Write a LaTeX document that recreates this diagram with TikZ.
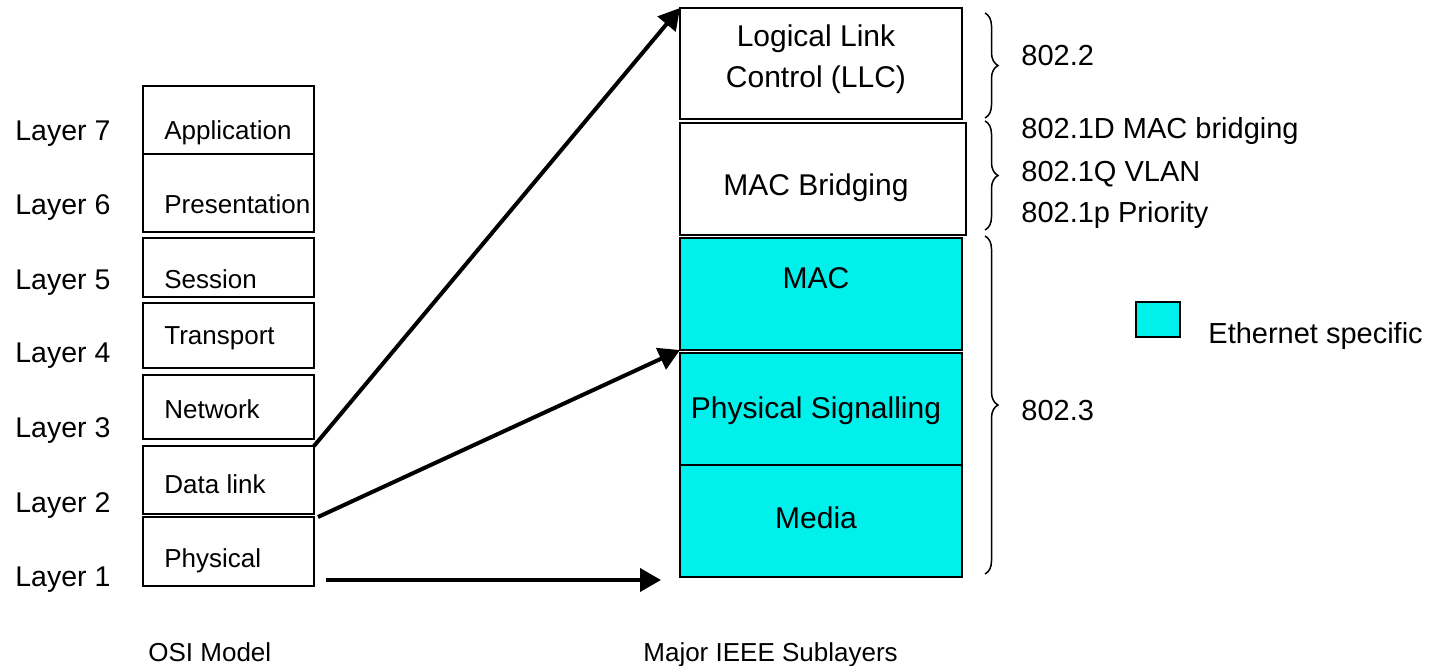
\documentclass[tikz,border=0pt]{standalone}
\usepackage{fontspec}
\setmainfont{Liberation Sans}
\usetikzlibrary{arrows.meta,fit,decorations.pathreplacing}
\definecolor{ethcyan}{RGB}{0,240,236}
\begin{document}
\begin{tikzpicture}[x=0.5pt,y=-0.5pt,
  box/.style={draw,line width=1pt,inner sep=0pt,outer sep=0pt},
  ethbox/.style={box,fill=ethcyan},
  laylabel/.style={font=\fontsize{14.25}{17}\selectfont,anchor=base west,inner sep=0pt},
  ositext/.style={font=\fontsize{13}{16}\selectfont,anchor=base west,inner sep=0pt},
  ieeetext/.style={font=\fontsize{15}{18}\selectfont,anchor=base,inner sep=0pt},
  stdtext/.style={font=\fontsize{14.5}{17}\selectfont,anchor=base west,inner sep=0pt},
  captext/.style={font=\fontsize{13}{16}\selectfont,anchor=base west,inner sep=0pt},
  bigarrow/.style={line width=2pt,-{Triangle[length=10.5pt,width=11.5pt]}},
  curly/.style={line width=0.75pt,decorate,decoration={brace,amplitude=6.5pt}}]
\useasboundingbox (0,0) rectangle (1431,665);

% OSI reference model stack
\node[box,fit={(143,86) (314,154)}]  (app) {};
\node[box,fit={(143,154) (314,232)}] (pres) {};
\node[box,fit={(143,238) (314,297)}] (sess) {};
\node[box,fit={(143,303) (314,368)}] (trans) {};
\node[box,fit={(143,375) (314,439)}] (net) {};
\node[box,fit={(143,446) (314,514)}] (dl) {};
\node[box,fit={(143,517) (314,586)}] (ph) {};

\node[ositext] (tapp)   at (164,139) {Application};
\node[ositext] (tpres)  at (164,213) {Presentation};
\node[ositext] (tsess)  at (164,288) {Session};
\node[ositext] (ttrans) at (164,344) {Transport};
\node[ositext] (tnet)   at (164,418) {Network};
\node[ositext] (tdl)    at (164,493) {Data link};
\node[ositext] (tph)    at (164,567) {Physical};

\node[laylabel] (l7) at (15,140) {Layer 7};
\node[laylabel] (l6) at (15,214) {Layer 6};
\node[laylabel] (l5) at (15,289) {Layer 5};
\node[laylabel] (l4) at (15,362) {Layer 4};
\node[laylabel] (l3) at (15,437) {Layer 3};
\node[laylabel] (l2) at (15,512) {Layer 2};
\node[laylabel] (l1) at (15,586) {Layer 1};

% IEEE sublayer stack
\node[box,fit={(680,8) (962,119)}]      (llc) {};
\node[box,fit={(680,123) (966,235)}]    (bridge) {};
\node[ethbox,fit={(680,238) (962,350)}] (mac) {};
\node[ethbox,fit={(680,353) (962,465)}] (phys) {};
\node[ethbox,fit={(680,465) (962,577)}] (media) {};

\node[ieeetext] (tllc1)   at (816,46)  {Logical Link};
\node[ieeetext] (tllc2)   at (816,87)  {Control (LLC)};
\node[ieeetext] (tbridge) at (816,195) {MAC Bridging};
\node[ieeetext] (tmac)    at (816,288) {MAC};
\node[ieeetext] (tphys)   at (816,418) {Physical Signalling};
\node[ieeetext] (tmedia)  at (816,528) {Media};

% braces and standard numbers
\draw[curly] (985,13) -- (985,118);
\draw[curly] (985,121) -- (985,230);
\draw[curly] (985,236) -- (985,574);

\node[stdtext] (s22)  at (1021,65)  {802.2};
\node[stdtext] (s1d)  at (1021,138) {802.1D MAC bridging};
\node[stdtext] (s1q)  at (1021,181) {802.1Q VLAN};
\node[stdtext] (s1p)  at (1021,222) {802.1p Priority};
\node[stdtext] (s3)   at (1021,420) {802.3};

% legend
\node[ethbox,fit={(1136,302) (1180,337)}] (legend) {};
\node[stdtext] (tlegend) at (1208,343) {Ethernet specific};

% mapping arrows
\coordinate (phsrc) at (326,580);
\coordinate (phdst) at (661,580);
\draw[bigarrow] (dl.north east) -- (llc.north west);
\draw[bigarrow] ([xshift=2pt]ph.north east) -- (mac.south west);
\draw[bigarrow] (phsrc) -- (phdst);

% captions
\node[captext] (cosi)  at (148,661) {OSI Model};
\node[captext] (cieee) at (643,661) {Major IEEE Sublayers};
\end{tikzpicture}
\end{document}
